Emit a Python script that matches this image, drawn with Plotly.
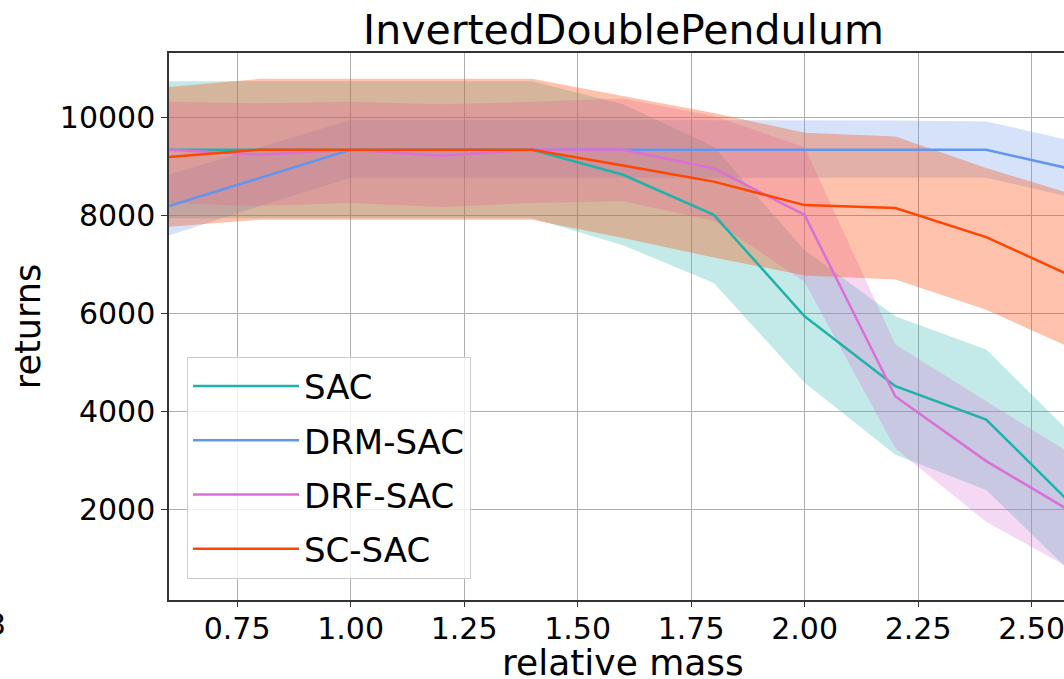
import plotly.graph_objects as go

# ---------------- data ----------------
mass = [0.6, 0.8, 1.0, 1.2, 1.4, 1.6, 1.8, 2.0, 2.2, 2.4, 2.6]

series_names = ["SAC", "DRM-SAC", "DRF-SAC", "SC-SAC"]

sac_mean = [9350, 9350, 9350, 9350, 9350, 8840, 8020, 5950, 4520, 3840, 2000]
sac_low = [7950, 7950, 7950, 7950, 7950, 7400, 6630, 4590, 3120, 2400, 600]
sac_high = [10750, 10750, 10750, 10750, 10750, 10280, 9410, 7300, 5950, 5270, 3430]

drm_mean = [8200, 8780, 9350, 9350, 9350, 9350, 9350, 9350, 9350, 9350, 8930]
drm_low = [7600, 8200, 8780, 8780, 8780, 8780, 8780, 8780, 8780, 8780, 8350]
drm_high = [8840, 9400, 9960, 9960, 9960, 9960, 9960, 9950, 9950, 9930, 9510]

drf_mean = [9350, 9250, 9350, 9230, 9350, 9350, 8970, 8020, 4310, 2990, 1890]
drf_low = [8265, 8200, 8265, 8180, 8265, 8300, 7900, 6650, 3250, 1750, 720]
drf_high = [10330, 10300, 10330, 10280, 10330, 10400, 10040, 9400, 5370, 4225, 3060]

sc_mean = [9200, 9350, 9350, 9350, 9350, 9030, 8700, 8220, 8160, 7565, 6720]
sc_low = [7780, 7920, 7920, 7920, 7920, 7550, 7150, 6780, 6700, 6080, 5250]
sc_high = [10630, 10800, 10800, 10800, 10800, 10450, 10100, 9700, 9620, 8980, 8410]

x_ticks = [0.75, 1.00, 1.25, 1.50, 1.75, 2.00, 2.25, 2.50]
y_ticks = [2000, 4000, 6000, 8000, 10000]

# ---------------- styling ----------------
line_colors = ["#20B2AA", "#6495ED", "#DA70D6", "#FF4500"]
fill_colors = ["rgba(32,178,170,0.27)", "rgba(100,149,237,0.27)",
               "rgba(218,112,214,0.27)", "rgba(255,69,0,0.32)"]
FONT = "DejaVu Sans"

means = [sac_mean, drm_mean, drf_mean, sc_mean]
lows = [sac_low, drm_low, drf_low, sc_low]
highs = [sac_high, drm_high, drf_high, sc_high]

fig = go.Figure()

# bands
for name, lo, hi, fc in zip(series_names, lows, highs, fill_colors):
    fig.add_trace(go.Scatter(
        x=mass + mass[::-1], y=hi + lo[::-1],
        fill="toself", fillcolor=fc, line=dict(width=0),
        mode="lines", showlegend=False, hoverinfo="skip", name=name + " band"))

# mean lines
for i, (name, m, lc) in enumerate(zip(series_names, means, line_colors)):
    fig.add_trace(go.Scatter(
        x=mass, y=m, mode="lines", name=name,
        line=dict(color=lc, width=2.5), legendgroup=name))

L, R, T, B = 169, 0, 53, 79
W, H = 1064, 679
PW, PH = W - L - R, H - T - B

fig.update_layout(
    width=W, height=H,
    margin=dict(l=L, r=R, t=T, b=B),
    paper_bgcolor="white", plot_bgcolor="white",
    font=dict(family=FONT, size=30, color="black"),
    title=dict(text="InvertedDoublePendulum", font=dict(family=FONT, size=41, color="black"),
               x=(623.5 - L) / PW, xref="paper", xanchor="center",
               y=1 - 30 / H, yref="container", yanchor="middle"),
    xaxis=dict(range=[0.6, 0.6 + PW / 454.0],
               tickvals=x_ticks, tickformat=".2f",
               showgrid=True, gridcolor="#b0b0b0", gridwidth=1,
               showline=True, linecolor="#333333", linewidth=1.5, mirror=True,
               ticks="outside", ticklen=5, tickcolor="#333333", tickwidth=1.2,
               tickfont=dict(size=30, color="black", family=FONT),
               ticklabeloverflow="allow", ticklabelstandoff=-4,
               zeroline=False),
    yaxis=dict(range=[153, 11327],
               tickvals=y_ticks, tickformat="d",
               showgrid=True, gridcolor="#b0b0b0", gridwidth=1,
               showline=True, linecolor="#333333", linewidth=1.5, mirror=False,
               ticks="outside", ticklen=6, tickcolor="#333333", tickwidth=1.2,
               tickfont=dict(size=30, color="black", family=FONT),
               title=dict(text="returns", font=dict(size=35, color="black", family=FONT),
                          standoff=9),
               zeroline=False),
    legend=dict(x=(187 - L) / PW, y=(600.5 - 357) / PH,
                xanchor="left", yanchor="top",
                bgcolor="rgba(255,255,255,0.8)", bordercolor="#cccccc", borderwidth=1,
                font=dict(family=FONT, size=34, color="black"),
                traceorder="grouped", tracegroupgap=7, itemwidth=106),
    showlegend=True,
)

fig.add_annotation(text="relative mass", xref="paper", yref="paper",
                   x=(623 - L) / PW, y=-(663 - 600.5) / PH,
                   xanchor="center", yanchor="middle", showarrow=False,
                   font=dict(family=FONT, size=36, color="black"))

# fragment of a neighbouring panel's tick label at the far left edge
fig.add_annotation(text="3", xref="paper", yref="paper",
                   x=-(L - 8) / PW, y=-(625 - 600.5) / PH,
                   xanchor="right", yanchor="middle", showarrow=False,
                   font=dict(family=FONT, size=30, color="black"))

fig.write_html("out.html", config={"displayModeBar": False},
               post_script="document.body.style.margin='0';")
